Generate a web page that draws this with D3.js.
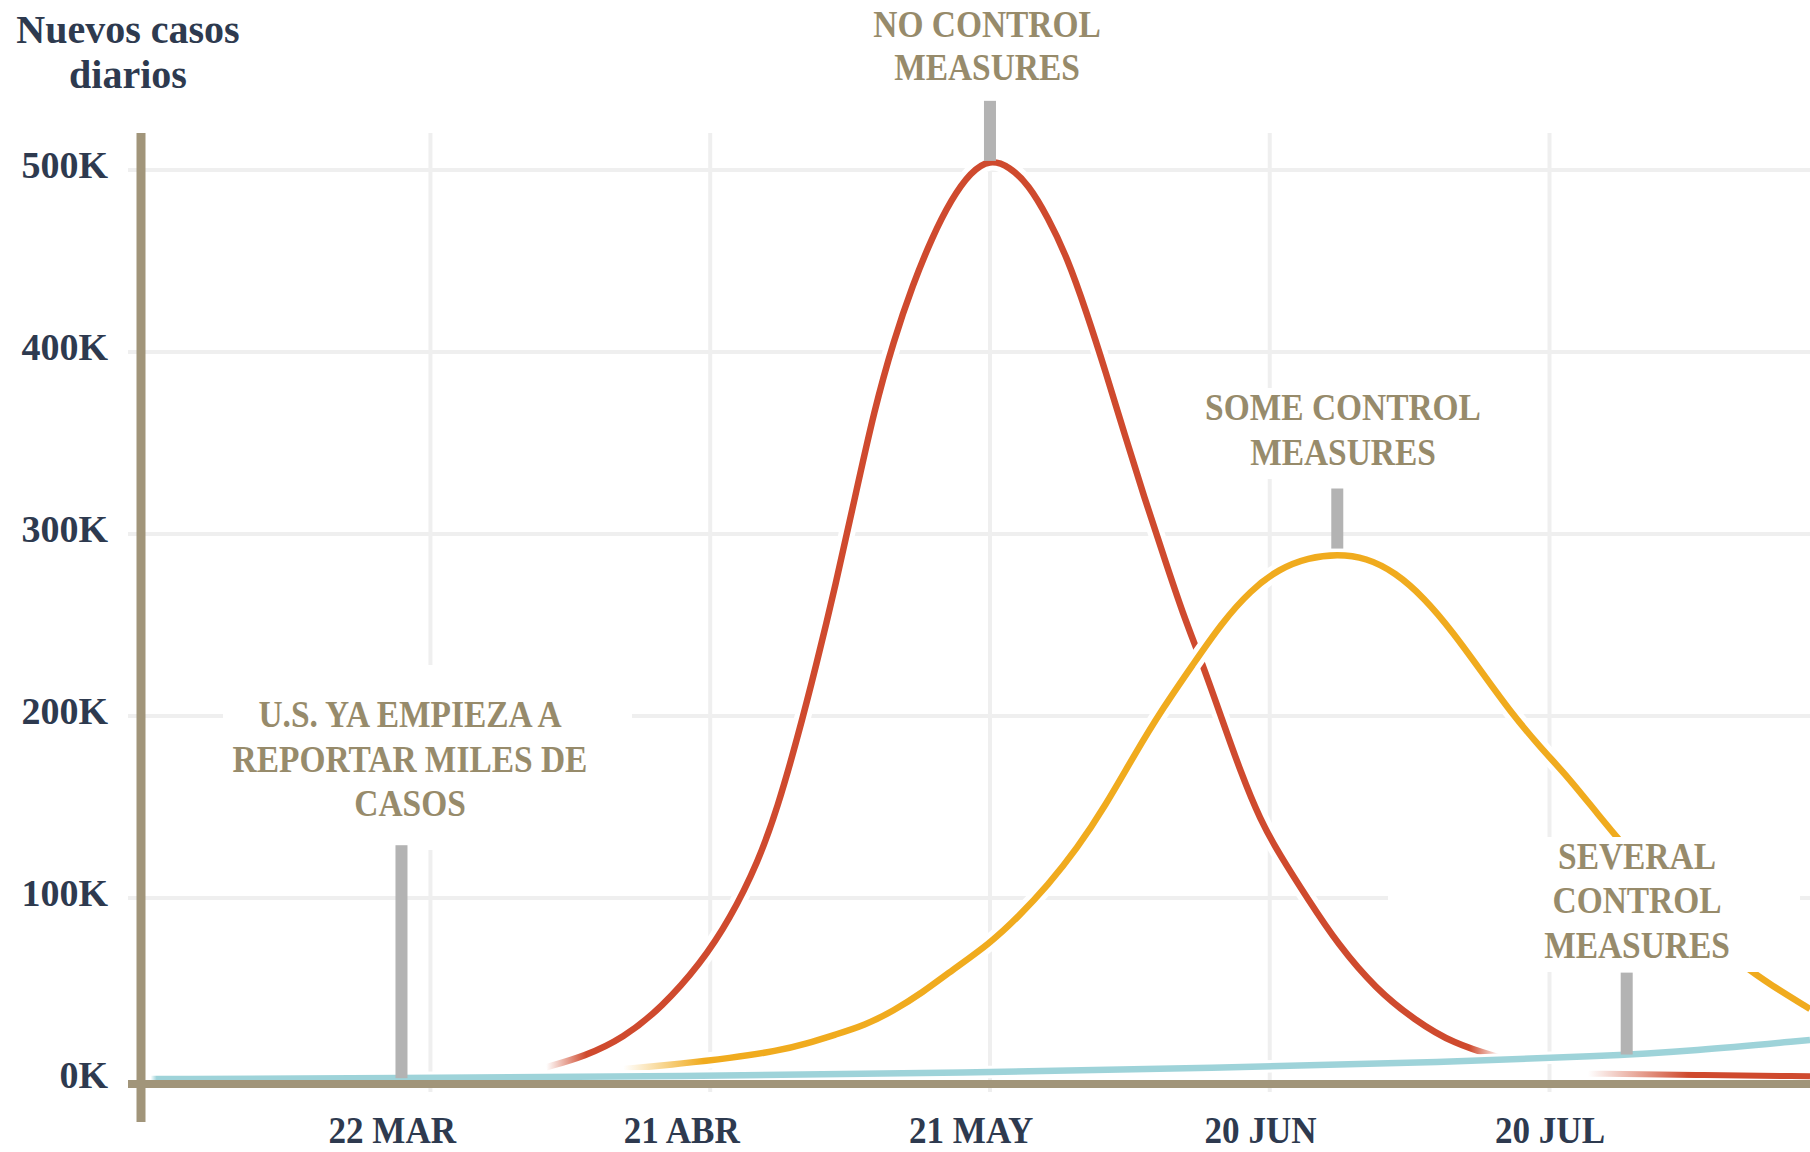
<!DOCTYPE html>
<html><head><meta charset="utf-8">
<script src="https://cdn.jsdelivr.net/npm/d3@7"></script>
<style>
html,body{margin:0;padding:0;background:#fff;}
svg{display:block;}
text{font-family:'Liberation Serif','DejaVu Serif',serif;font-weight:bold;}
</style></head><body>
<svg id="chart" width="1810" height="1152"></svg>
<script>
// ---------- DATA ----------
const yTickValues = [0, 100, 200, 300, 400, 500];          // thousands
const yTickLabels = ["0K", "100K", "200K", "300K", "400K", "500K"];
const xTickDates  = ["2020-03-22", "2020-04-21", "2020-05-21", "2020-06-20", "2020-07-20"];
const xTickLabels = ["22 MAR", "21 ABR", "21 MAY", "20 JUN", "20 JUL"];
const xGridDates  = ["2020-03-26", "2020-04-24", "2020-05-23", "2020-06-21", "2020-07-20"];

// "No control measures" (thousands of daily new cases)
const noControlDates = ["2020-04-07","2020-04-11","2020-04-15","2020-04-19","2020-04-23","2020-04-26","2020-04-29",
  "2020-05-01","2020-05-03","2020-05-05","2020-05-07","2020-05-09","2020-05-11","2020-05-13","2020-05-15","2020-05-17",
  "2020-05-19","2020-05-21","2020-05-23","2020-05-25","2020-05-27","2020-05-29","2020-05-31","2020-06-02","2020-06-04",
  "2020-06-06","2020-06-08","2020-06-10","2020-06-12","2020-06-14","2020-06-16","2020-06-18","2020-06-20","2020-06-22",
  "2020-06-25","2020-06-28","2020-07-02","2020-07-06","2020-07-10","2020-07-15"];
const noControlValues = [7,13,23,40,64,88,120,
  150,187,228,272,320,368,406,437,463,
  484,499,506,502,492,474,452,422,389,
  354,320,288,256,229,199,169,143,124,
  99,75,50,33,20,12];
// residual red tail near zero at the right
const noControlTailDates  = ["2020-07-24","2020-08-04","2020-08-16"];
const noControlTailValues = [3.5, 2.8, 2];

// "Some control measures"
const someControlDates = ["2020-04-15","2020-04-21","2020-04-26","2020-05-01","2020-05-04","2020-05-07","2020-05-10",
  "2020-05-13","2020-05-16","2020-05-19","2020-05-23","2020-05-26","2020-05-29","2020-06-01","2020-06-04","2020-06-07",
  "2020-06-10","2020-06-13","2020-06-16","2020-06-19","2020-06-22","2020-06-25","2020-06-28","2020-07-01","2020-07-04",
  "2020-07-07","2020-07-10","2020-07-13","2020-07-16","2020-07-19","2020-07-22","2020-07-25","2020-07-28","2020-07-31",
  "2020-08-03","2020-08-06","2020-08-09","2020-08-12","2020-08-16"];
const someControlValues = [6,9,12,16,20,25,30,
  38,48,60,75,90,107,127,151,179,
  205,228,251,269,281,287,289,287,279,
  265,246,224,202,183,166,146,127,109,
  92,77,63,52,39];

// "Several control measures"
const severalControlDates  = ["2020-02-26","2020-03-22","2020-04-21","2020-05-21","2020-06-15","2020-07-10","2020-07-25","2020-08-04","2020-08-16"];
const severalControlValues = [0.5, 1, 2, 4, 6.5, 10, 13, 16, 22];

// annotation leaders: date, top value, bottom value
const annoLines  = [["NO CONTROL","MEASURES"], ["SOME CONTROL","MEASURES"], ["U.S. YA EMPIEZA A","REPORTAR MILES DE","CASOS"], ["SEVERAL","CONTROL","MEASURES"]];
const annoDates  = ["2020-05-23", "2020-06-28", "2020-03-23", "2020-07-28"];
const annoTop    = [538, 325, 129, 59];
const annoBottom = [505, 292, 1, 14];

// ---------- LAYOUT ----------
const W = 1810, H = 1152;
const C = {
  text: "#2e3a4f", anno: "#978b6b", axis: "#a1957a", grid: "#efefef", leader: "#b3b3b3",
  red: "#cf4a2e", yellow: "#f0ab1e", teal: "#9ed3d9"
};
const annoLayout = [
  {cx: 987,  base: [37, 80]},
  {cx: 1343, base: [420, 465]},
  {cx: 410,  base: [727, 772, 816]},
  {cx: 1637, base: [869, 913, 958]}
];
const whiteBoxes = [
  {x: 223, y: 665, w: 409, h: 185},
  {x: 1200, y: 388, w: 290, h: 91},
  {x: 1388, y: 837, w: 412, h: 135}
];

const parse = d3.utcParse("%Y-%m-%d");
const x = d3.scaleUtc().domain([parse("2020-02-25"), parse("2020-08-16")]).range([141, 1810]);
const y = d3.scaleLinear().domain([0, 500]).range([1080, 170]);

const svg = d3.select("#chart");
const defs = svg.append("defs");

// gridlines
svg.append("g").selectAll("line").data(yTickValues.filter(v => v > 0)).join("line")
  .attr("x1", 128).attr("x2", W).attr("y1", d => y(d)).attr("y2", d => y(d))
  .attr("stroke", C.grid).attr("stroke-width", 4);
svg.append("g").selectAll("line").data(xGridDates).join("line")
  .attr("x1", d => x(parse(d))).attr("x2", d => x(parse(d))).attr("y1", 133).attr("y2", 1092)
  .attr("stroke", C.grid).attr("stroke-width", 4);

// line helper
const lineGen = d3.line().x(d => x(d.date)).y(d => y(d.value)).curve(d3.curveBasis);
function series(dates, values) { return dates.map((d, i) => ({date: parse(d), value: values[i]})); }
function fadeGradient(id, color, data, fadeIn, fadeOut) {
  const x0 = x(data[0].date), x1 = x(data[data.length - 1].date), len = x1 - x0;
  const g = defs.append("linearGradient").attr("id", id).attr("gradientUnits", "userSpaceOnUse")
    .attr("x1", x0).attr("x2", x1).attr("y1", 0).attr("y2", 0);
  g.append("stop").attr("offset", 0).attr("stop-color", color).attr("stop-opacity", fadeIn > 0 ? 0 : 1);
  g.append("stop").attr("offset", fadeIn / len).attr("stop-color", color).attr("stop-opacity", 1);
  g.append("stop").attr("offset", 1 - fadeOut / len).attr("stop-color", color).attr("stop-opacity", 1);
  g.append("stop").attr("offset", 1).attr("stop-color", color).attr("stop-opacity", fadeOut > 0 ? 0 : 1);
  return `url(#${id})`;
}
function drawSeries(data, color, id, fadeIn, fadeOut, width, halo) {
  const g = svg.append("g");
  g.append("path").attr("d", lineGen(data)).attr("fill", "none")
    .attr("stroke", "#fff").attr("stroke-width", width + halo);
  g.append("path").attr("d", lineGen(data)).attr("fill", "none")
    .attr("stroke", fadeGradient(id, color, data, fadeIn, fadeOut)).attr("stroke-width", width);
}

const red = series(noControlDates, noControlValues);
const redTail = series(noControlTailDates, noControlTailValues);
const yellow = series(someControlDates, someControlValues);
const teal = series(severalControlDates, severalControlValues);

drawSeries(red, C.red, "gRed", 40, 32, 6.5, 10);
drawSeries(redTail, C.red, "gRedTail", 100, 0, 6, 4);
drawSeries(yellow, C.yellow, "gYellow", 80, 0, 6.5, 10);
drawSeries(teal, C.teal, "gTeal", 6, 0, 6.5, 6);

// white boxes behind annotation text
svg.append("g").selectAll("rect").data(whiteBoxes).join("rect")
  .attr("x", d => d.x).attr("y", d => d.y).attr("width", d => d.w).attr("height", d => d.h).attr("fill", "#fff");

// leaders
svg.append("g").selectAll("rect").data(annoDates).join("rect")
  .attr("x", d => x(parse(d)) - 6).attr("width", 12)
  .attr("y", (d, i) => y(annoTop[i])).attr("height", (d, i) => y(annoBottom[i]) - y(annoTop[i]))
  .attr("fill", C.leader);

// annotation text
annoLines.forEach((lines, i) => {
  const L = annoLayout[i];
  lines.forEach((t, j) => {
    svg.append("text").attr("transform", `translate(${L.cx},${L.base[j]}) scale(0.88,1)`)
      .attr("text-anchor", "middle").attr("font-size", 38).attr("fill", C.anno).text(t);
  });
});

// axes lines
svg.append("line").attr("x1", 141).attr("x2", 141).attr("y1", 133).attr("y2", 1122)
  .attr("stroke", C.axis).attr("stroke-width", 9);
svg.append("line").attr("x1", 128).attr("x2", W).attr("y1", 1084).attr("y2", 1084)
  .attr("stroke", C.axis).attr("stroke-width", 8);

// y axis labels
const yAxis = svg.append("g").attr("transform", "translate(141,0)")
  .call(d3.axisLeft(y).tickValues(yTickValues).tickFormat((d, i) => yTickLabels[i]).tickSize(0).tickPadding(33));
yAxis.select(".domain").remove();
yAxis.selectAll("text").attr("font-size", 38).attr("fill", C.text).attr("dy", "0.2em")
  .attr("font-family", "'Liberation Serif',serif").attr("font-weight", "bold");

// x axis labels
const xAxis = svg.append("g").attr("transform", "translate(0,1084)")
  .call(d3.axisBottom(x).tickValues(xTickDates.map(parse)).tickFormat((d, i) => xTickLabels[i]).tickSize(0));
xAxis.select(".domain").remove();
xAxis.selectAll("text").attr("y", 59).attr("dy", 0).attr("font-size", 39).attr("fill", C.text)
  .attr("transform", "scale(0.9,1)")
  .attr("font-family", "'Liberation Serif',serif").attr("font-weight", "bold");

// title
[["Nuevos casos", 43], ["diarios", 88]].forEach(([t, b]) => {
  svg.append("text").attr("x", 128).attr("y", b).attr("text-anchor", "middle")
    .attr("font-size", 40).attr("fill", C.text).text(t);
});
</script>
</body></html>
